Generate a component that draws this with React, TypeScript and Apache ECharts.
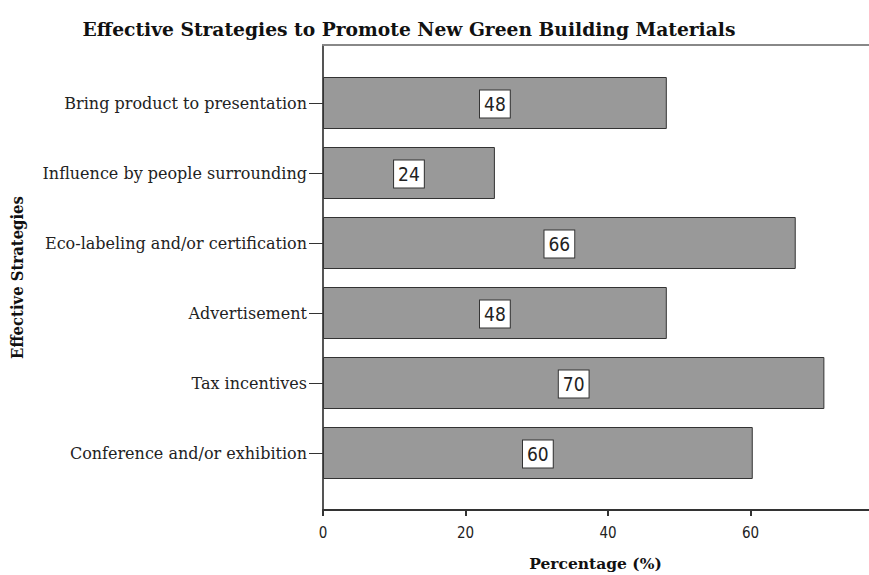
import React, { useEffect, useRef } from "react";
import * as echarts from "echarts";

const categories: string[] = [
  "Bring product to presentation",
  "Influence by people surrounding",
  "Eco-labeling and/or certification",
  "Advertisement",
  "Tax incentives",
  "Conference and/or exhibition",
];

const percentages: number[] = [48, 24, 66, 48, 70, 60];

const xTicks: number[] = [0, 20, 40, 60];

const titleText = "Effective Strategies to Promote New Green Building Materials";
const xName = "Percentage (%)";
const yName = "Effective Strategies";

// The value axis runs to 80 on a canvas slightly wider than the page,
// so the visible part ends just past 76.
const CANVAS_W = 896;
const CANVAS_H = 575;
const X_MAX = 80;
const PLOT_LEFT = 323;
const PLOT_TOP = 45;
const PLOT_BOTTOM = 510;

export default function App() {
  const ref = useRef<HTMLDivElement>(null);

  useEffect(() => {
    if (!ref.current) return;
    const chart = echarts.init(ref.current, undefined, { renderer: "svg" });

    const option: echarts.EChartsOption = {
      animation: false,
      backgroundColor: "#ffffff",
      title: {
        text: titleText,
        left: 404,
        top: 14,
        textAlign: "center",
        textStyle: {
          fontFamily: "DejaVu Serif",
          fontWeight: "bold",
          fontSize: 18.7,
          color: "#111",
        },
      },
      grid: [
        // outer frame with the value axis
        {
          left: PLOT_LEFT,
          top: PLOT_TOP,
          right: 0,
          height: PLOT_BOTTOM - PLOT_TOP,
        },
        // inner band area that holds the bars
        {
          left: PLOT_LEFT,
          top: 68,
          right: 0,
          height: 420,
        },
      ],
      xAxis: [
        {
          gridIndex: 0,
          type: "value",
          min: 0,
          max: X_MAX,
          interval: 20,
          position: "bottom",
          axisLine: { show: true, lineStyle: { color: "#333", width: 2 } },
          axisTick: { show: true, length: 6, lineStyle: { color: "#333", width: 2 } },
          axisLabel: {
            margin: 15,
            fontFamily: "DejaVu Sans Condensed",
            fontSize: 15,
            color: "#222",
            formatter: (v: number) => (xTicks.includes(v) ? String(v) : ""),
          },
          splitLine: { show: false },
        },
        {
          gridIndex: 0,
          type: "value",
          min: 0,
          max: X_MAX,
          position: "top",
          axisLine: { show: true, lineStyle: { color: "#888", width: 2 } },
          axisTick: { show: false },
          axisLabel: { show: false },
          splitLine: { show: false },
        },
        {
          gridIndex: 1,
          type: "value",
          min: 0,
          max: X_MAX,
          show: false,
        },
      ],
      yAxis: [
        {
          gridIndex: 0,
          type: "value",
          min: 0,
          max: 1,
          axisLine: { show: true, lineStyle: { color: "#555", width: 2 } },
          axisTick: { show: false },
          axisLabel: { show: false },
          splitLine: { show: false },
        },
        {
          gridIndex: 1,
          type: "category",
          inverse: true,
          data: categories,
          axisLine: { show: false },
          axisTick: {
            show: true,
            alignWithLabel: true,
            length: 14,
            lineStyle: { color: "#333", width: 1 },
          },
          axisLabel: {
            margin: 16,
            fontFamily: "DejaVu Serif",
            fontSize: 16,
            color: "#222",
          },
          splitLine: { show: false },
        },
      ],
      graphic: [
        {
          type: "text",
          x: 17,
          y: (PLOT_TOP + PLOT_BOTTOM) / 2,
          rotation: Math.PI / 2,
          style: {
            text: yName,
            align: "center",
            verticalAlign: "middle",
            fontFamily: "DejaVu Serif Condensed",
            fontWeight: "bold",
            fontSize: 16.5,
            fill: "#111",
          },
        },
        {
          type: "text",
          x: 595.5,
          y: 563,
          style: {
            text: xName,
            align: "center",
            verticalAlign: "middle",
            fontFamily: "DejaVu Serif",
            fontWeight: "bold",
            fontSize: 15.5,
            fill: "#111",
          },
        },
      ],
      series: [
        {
          type: "bar",
          xAxisIndex: 2,
          yAxisIndex: 1,
          data: percentages,
          barWidth: 52,
          itemStyle: {
            color: "#999999",
            borderColor: "#333",
            borderWidth: 1,
          },
          label: {
            show: true,
            position: "inside",
            offset: [0, 1],
            fontFamily: "DejaVu Sans Condensed",
            fontSize: 19,
            color: "#222",
            backgroundColor: "#ffffff",
            borderColor: "#333",
            borderWidth: 1,
            padding: [5, 4, 3, 4],
          },
        },
      ],
    };

    chart.setOption(option);
    return () => chart.dispose();
  }, []);

  return (
    <div
      ref={ref}
      style={{ position: "fixed", left: 0, top: 0, width: CANVAS_W, height: CANVAS_H }}
    />
  );
}
